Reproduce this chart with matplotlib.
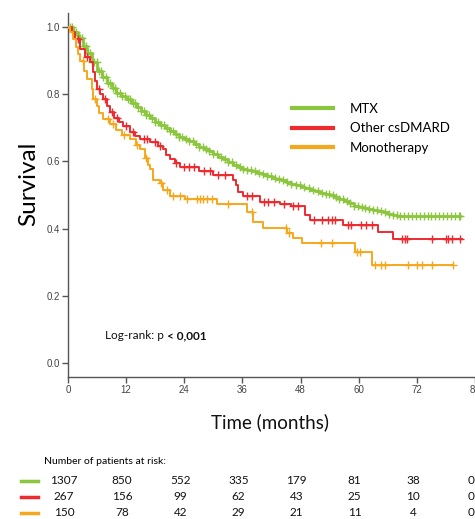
import numpy as np
import matplotlib
matplotlib.use("Agg")
import matplotlib.pyplot as plt
from matplotlib.lines import Line2D

# Kaplan-Meier step points (time in months, survival after the step)
mtx_t = [0, 1, 2, 3, 4, 5, 6, 7, 8, 9, 10, 11, 12, 13, 14, 15, 16, 17, 18, 19,
         20, 21, 22, 23, 24, 25, 26, 27, 28, 29, 30, 31, 32, 33, 34, 35, 36, 37,
         38, 39, 40, 41, 42, 43, 44, 45, 46, 47, 48, 49, 50, 51, 52, 53, 54, 55,
         56, 57, 58, 59, 60, 61, 62, 63, 64, 65, 66, 67, 68, 81]
mtx_s = [1.0, 0.985, 0.968, 0.945, 0.922, 0.895, 0.870, 0.850, 0.833, 0.818,
         0.805, 0.795, 0.785, 0.773, 0.762, 0.750, 0.738, 0.728, 0.718, 0.708,
         0.699, 0.690, 0.682, 0.673, 0.666, 0.660, 0.652, 0.644, 0.637, 0.630,
         0.622, 0.613, 0.606, 0.598, 0.590, 0.582, 0.576, 0.573, 0.570, 0.567,
         0.562, 0.557, 0.552, 0.548, 0.544, 0.539, 0.534, 0.529, 0.525, 0.521,
         0.516, 0.511, 0.507, 0.504, 0.500, 0.494, 0.488, 0.482, 0.475, 0.468,
         0.464, 0.460, 0.457, 0.454, 0.451, 0.448, 0.444, 0.440, 0.436, 0.436]
mtx_c = [0.4, 0.8, 1.2, 1.6, 2.0, 2.5, 2.9, 3.3, 3.7, 4.1, 4.6, 5.0, 5.4, 5.9,
         6.4, 6.8, 7.3, 7.8, 8.2, 8.7, 9.2, 9.7, 10.2, 10.7, 11.2, 11.8, 12.3,
         12.8, 13.4, 13.9, 14.5, 15.0, 15.6, 16.2, 16.8, 17.4, 18.0, 18.6, 19.2,
         19.8, 20.4, 21.0, 21.7, 22.3, 23.0, 23.6, 24.3, 25.0, 25.7, 26.4, 27.1,
         27.8, 28.5, 29.2, 30.0, 30.7, 31.5, 32.3, 33.0, 33.8, 34.6, 35.4, 36.2,
         37.0, 37.8, 38.6, 39.4, 40.2, 41.0, 41.9, 42.7, 43.6, 44.4, 45.3, 46.1,
         47.0, 47.9, 48.8, 49.7, 50.6, 51.5, 52.4, 53.2, 53.9, 54.6, 55.3, 56.0,
         56.8, 57.5, 58.3, 59.0, 59.8, 60.6, 61.4, 62.2, 63.0, 63.8, 64.6, 65.4,
         66.2, 67.0, 67.8, 68.6, 69.4, 70.2, 71.0, 71.8, 72.6, 73.4, 74.2, 75.0,
         75.8, 76.6, 77.4, 78.2, 79.0, 79.8, 80.6, 81.0]

oth_t = [0, 0.8, 1.5, 2.5, 3.5, 4.5, 5.2, 5.6, 6.0, 6.6, 7.2, 8.0, 8.7, 9.5,
         10.5, 11.4, 12.8, 13.8, 14.9, 17.0, 18.5, 19.6, 20.3, 21.0, 22.0, 23.1,
         27.0, 30.0, 34.1, 34.6, 35.1, 36.2, 39.7, 43.8, 46.0, 49.0, 50.0, 56.8,
         64.0, 67.1, 81.4]
oth_s = [1.0, 0.985, 0.965, 0.935, 0.910, 0.895, 0.866, 0.840, 0.815, 0.800,
         0.785, 0.765, 0.746, 0.730, 0.716, 0.704, 0.687, 0.675, 0.666, 0.657,
         0.645, 0.636, 0.620, 0.606, 0.594, 0.582, 0.570, 0.561, 0.546, 0.530,
         0.510, 0.496, 0.480, 0.472, 0.466, 0.440, 0.427, 0.412, 0.391, 0.368,
         0.368]
oth_c = [2.0, 4.0, 6.3, 7.6, 9.0, 10.2, 12.0, 13.4, 15.6, 16.4, 18.0, 19.0,
         22.2, 24.0, 25.0, 26.0, 28.0, 29.4, 31.0, 32.5, 37.0, 38.0, 40.5, 41.3,
         42.5, 44.5, 46.5, 47.5, 50.8, 52.5, 53.7, 54.5, 55.2, 57.8, 58.5, 60.4,
         61.5, 62.8, 69.0, 69.6, 70.0, 75.2, 78.0, 78.5, 79.3, 81.0]

mono_t = [0, 0.5, 1.0, 1.6, 2.0, 2.5, 3.2, 3.9, 5.0, 5.2, 6.0, 6.5, 7.2, 8.7,
          10.0, 11.2, 12.8, 14.0, 14.9, 15.8, 16.5, 17.0, 17.6, 19.0, 19.6,
          21.0, 24.2, 30.8, 37.0, 38.2, 40.3, 45.2, 46.5, 48.3, 59.3, 62.8, 79.5]
mono_s = [1.0, 0.985, 0.964, 0.940, 0.920, 0.900, 0.870, 0.845, 0.815, 0.785,
          0.765, 0.745, 0.725, 0.710, 0.695, 0.680, 0.666, 0.650, 0.636, 0.610,
          0.590, 0.576, 0.546, 0.537, 0.516, 0.496, 0.487, 0.472, 0.450, 0.420,
          0.403, 0.388, 0.373, 0.358, 0.331, 0.293, 0.293]
mono_c = [3.0, 5.5, 8.2, 9.3, 11.5, 14.2, 16.0, 19.2, 20.5, 21.7, 23.1, 24.6,
          26.7, 27.3, 27.9, 28.7, 29.8, 33.0, 38.0, 45.0, 45.7, 52.3, 54.5,
          59.7, 60.3, 63.4, 64.5, 65.5, 70.2, 72.1, 73.1, 75.2, 79.5]

labels = ["MTX", "Other csDMARD", "Monotherapy"]
colors = ["#8cc63e", "#ee2a2e", "#f6a81c"]

ticks = [0, 12, 24, 36, 48, 60, 72, 84]
at_risk = [
    [1307, 850, 552, 335, 179, 81, 38, 0],
    [267, 156, 99, 62, 43, 25, 10, 0],
    [150, 78, 42, 29, 21, 11, 4, 0],
]

text_font = ["Lato", "DejaVu Sans"]
tick_font = ["Liberation Sans", "DejaVu Sans"]

fig = plt.figure(figsize=(4.75, 5.19), dpi=100)
ax = fig.add_axes([68 / 475, 1 - 377 / 519, 1 - 68 / 475, (377 - 13) / 519])

series = [(mtx_t, mtx_s, mtx_c), (oth_t, oth_s, oth_c), (mono_t, mono_s, mono_c)]
widths = [2.0, 1.4, 1.4]
for (t, s, c), col, lw in zip(series, colors, widths):
    t = np.array(t)
    s = np.array(s)
    ax.step(t, s, where="post", color=col, lw=lw, zorder=3)
    idx = np.searchsorted(t, c, side="right") - 1
    ax.plot(c, s[idx], ls="none", marker="+", ms=5.5, mew=1.0, color=col, zorder=3)

ax.set_xlim(0, 84)
ax.set_ylim(-0.042, 1.042)
ax.set_xticks(ticks)
ax.set_yticks([0.0, 0.2, 0.4, 0.6, 0.8, 1.0])
ax.set_yticklabels(["0.0", "0.2", "0.4", "0.6", "0.8", "1.0"])
for sp in ["top", "right"]:
    ax.spines[sp].set_visible(False)
for sp in ["left", "bottom"]:
    ax.spines[sp].set_color("#555555")
    ax.spines[sp].set_linewidth(1.0)
ax.tick_params(length=4, width=1, color="#555555", labelcolor="#444444",
               labelsize=7, pad=2)
for lab in ax.get_xticklabels() + ax.get_yticklabels():
    lab.set_family(tick_font)

ax.set_ylabel("Survival", family=text_font, fontsize=17.5)
ax.yaxis.set_label_coords(-0.07, 0.53)
fig.text(270 / 475, 1 - 422 / 519, "Time (months)", family=text_font,
         fontsize=13.5, ha="center", va="center", color="#111111")

t1 = fig.text(105 / 475, 1 - 341 / 519, "Log-rank: p", family=text_font,
              fontsize=8.5, ha="left", va="bottom", color="#111111")
ax.annotate("< 0,001", xy=(1, 0), xycoords=t1, xytext=(2.5, 0),
            textcoords="offset points", family=text_font, fontsize=8.5,
            fontweight="bold", ha="left", va="bottom", color="#111111")

handles = [Line2D([0], [0], color=c, lw=3) for c in colors]
fig.legend(handles, labels, loc="upper left", frameon=False,
           bbox_to_anchor=(292 / 475, 1 - 103 / 519),
           bbox_transform=fig.transFigure, borderpad=0, borderaxespad=0,
           handlelength=3.1, handletextpad=1.3, labelspacing=0.55,
           prop={"family": text_font, "size": 9.5})

# number at risk table
fig.text(44 / 475, 1 - 462 / 519, "Number of patients at risk:",
         family=text_font, fontsize=7.5, ha="left", va="center")
row_y = [481, 497, 513]
for row, col, py in zip(at_risk, colors, row_y):
    yf = 1 - py / 519
    fig.add_artist(Line2D([21 / 475, 38 / 475], [yf, yf], color=col, lw=2.5))
    for tk, n in zip(ticks, row):
        xpix = 68 + tk * (475 - 68) / 84 - 4
        fig.text(xpix / 475, yf, str(n), family=text_font, fontsize=8.5,
                 ha="center", va="center", color="#111111")

fig.savefig("out.png", dpi=100)
